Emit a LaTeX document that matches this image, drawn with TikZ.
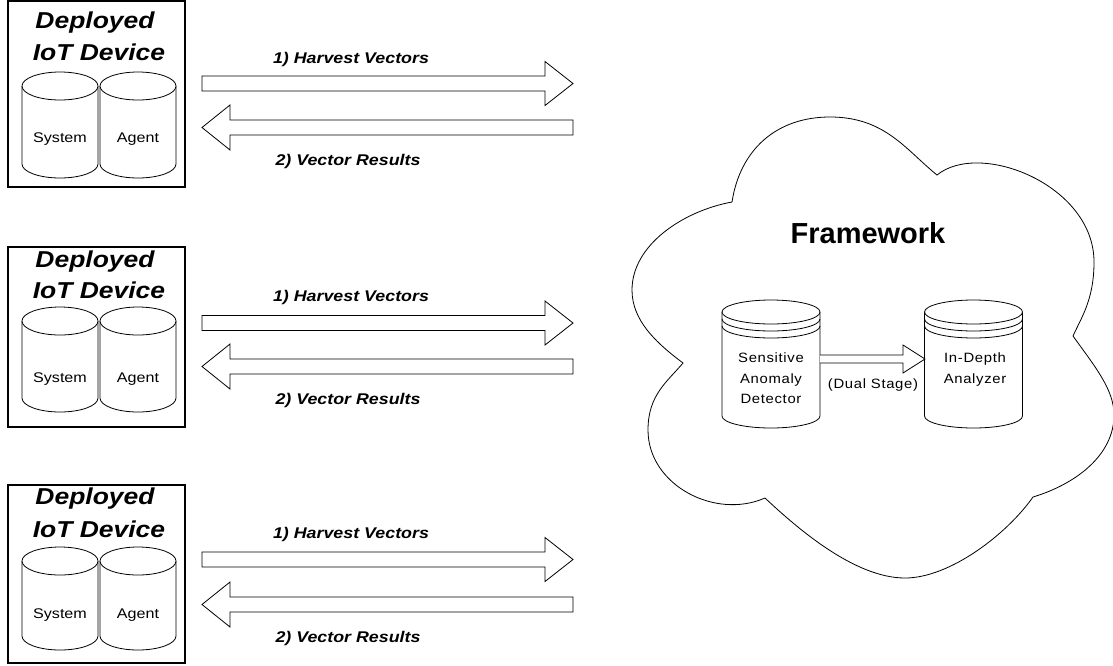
\documentclass[tikz,border=0pt]{standalone}
\usepackage{fontspec}
\setmainfont{Liberation Sans}
\newfontfamily\wfont[FakeStretch=1.15]{Liberation Sans}
\newfontfamily\cfont[FakeStretch=1.1,LetterSpace=5]{Liberation Sans}
\begin{document}
\begin{tikzpicture}[x=1pt,y=-1pt,line join=miter,
  outl/.style={draw=black, line width=0.8pt, fill=white},
  devbox/.style={draw=black, line width=1.1pt, minimum width=177pt, inner sep=0pt},
  title/.style={font=\wfont\bfseries\itshape\fontsize{23}{23}\selectfont, anchor=base, inner sep=0pt},
  lbl/.style={font=\wfont\bfseries\itshape\fontsize{15.5}{15.5}\selectfont, anchor=base, inner sep=0pt},
  small/.style={font=\wfont\fontsize{14}{14}\selectfont, anchor=base, inner sep=0pt},
  ctext/.style={font=\cfont\fontsize{13.5}{13.5}\selectfont, anchor=base, inner sep=0pt},
  fw/.style={font=\bfseries\fontsize{29}{29}\selectfont, anchor=base, inner sep=0pt}]
\useasboundingbox (0,0) rectangle (1113,665);

% ---------- device boxes ----------
\foreach \i/\tp/\bt/\ta/\tb/\ct/\cb/\ty in {1/1/187/28/60/86/164/142, 2/247/427/267/298/321/398/382, 3/485/663/504/537/561/636/618}{
  \pgfmathsetmacro\hh{\bt-\tp}
  \pgfmathsetmacro\cy{(\tp+\bt)/2}
  \node[devbox, minimum height=\hh pt] (dev\i) at (96.5,\cy) {};
  \node[title] (dep\i) at (95,\ta) {Deployed};
  \node[title] (iot\i) at (99,\tb) {IoT Device};
  \foreach \cx in {60,138}{
    \draw[outl] (\cx-38,\ct) -- (\cx-38,\cb) arc[start angle=180,end angle=0,x radius=38,y radius=14] -- (\cx+38,\ct);
    \draw[outl] (\cx,\ct) ellipse [x radius=38, y radius=14];
  }
  \node[small] (sys\i) at (60,\ty) {System};
  \node[small] (agt\i) at (138,\ty) {Agent};
}

% ---------- block arrows ----------
\foreach \s/\ra/\la/\ya/\yb in {1/83.5/127.5/63/165, 2/323/366.5/301/404, 3/559.5/604.5/538/642}{
  \coordinate (hs\s) at (202,\ra);
  \coordinate (he\s) at (573,\ra);
  \coordinate (rs\s) at (573,\la);
  \coordinate (re\s) at (202,\la);
  \draw[outl] (202,\ra-7.5) -- (545,\ra-7.5) -- (545,\ra-22) -- (he\s) -- (545,\ra+22) -- (545,\ra+7.5) -- (202,\ra+7.5) -- cycle;
  \draw[outl] (573,\la-7.5) -- (230,\la-7.5) -- (230,\la-22.5) -- (re\s) -- (230,\la+22.5) -- (230,\la+7.5) -- (573,\la+7.5) -- cycle;
  \node[lbl] (hv\s) at (351,\ya) {1) Harvest Vectors};
  \node[lbl] (vr\s) at (348,\yb) {2) Vector Results};
}

% ---------- cloud ----------
\draw[outl] (732,202) .. controls (740,150) and (776,117) .. (830,117)
 .. controls (885,117) and (906,150) .. (937,175)
 .. controls (980,140) and (1094,185) .. (1094,262)
 .. controls (1094,300) and (1081,318) .. (1073,336)
 .. controls (1096,368) and (1114,390) .. (1114,415)
 .. controls (1114,455) and (1076,484) .. (1033,497)
 .. controls (1007,534) and (950,578) .. (905,578)
 .. controls (855,578) and (798,529) .. (765,498)
 .. controls (715,520) and (648,485) .. (648,430)
 .. controls (648,395) and (667,382) .. (683,363)
 .. controls (655,342) and (632,320) .. (632,290)
 .. controls (632,245) and (683,211) .. (732,202) -- cycle;

\node[fw] (framework) at (868,243) {Framework};

% ---------- framework cylinders ----------
\foreach \cx in {771,973.5}{
  \draw[outl] (\cx-49,312) -- (\cx-49,416) arc[start angle=180,end angle=0,x radius=49,y radius=12] -- (\cx+49,312);
  \draw[outl] (\cx,312) ellipse [x radius=49, y radius=12];
  \draw[line width=0.8pt] (\cx-49,319) arc[start angle=180,end angle=0,x radius=49,y radius=12];
  \draw[line width=0.8pt] (\cx-49,326) arc[start angle=180,end angle=0,x radius=49,y radius=12];
}
\node[ctext] (sen) at (771,362) {Sensitive};
\node[ctext] (ano) at (771,383) {Anomaly};
\node[ctext] (det) at (771,403) {Detector};
\node[ctext] (ind) at (975,362) {In-Depth};
\node[ctext] (ana) at (975,383) {Analyzer};

\coordinate (sadR) at (820,359);
\coordinate (idaL) at (925,359);
\draw[outl] (820,355) -- (903,355) -- (903,345) -- (idaL) -- (903,373) -- (903,363) -- (820,363);
\node[ctext] (dual) at (873,388) {(Dual Stage)};
\end{tikzpicture}
\end{document}
